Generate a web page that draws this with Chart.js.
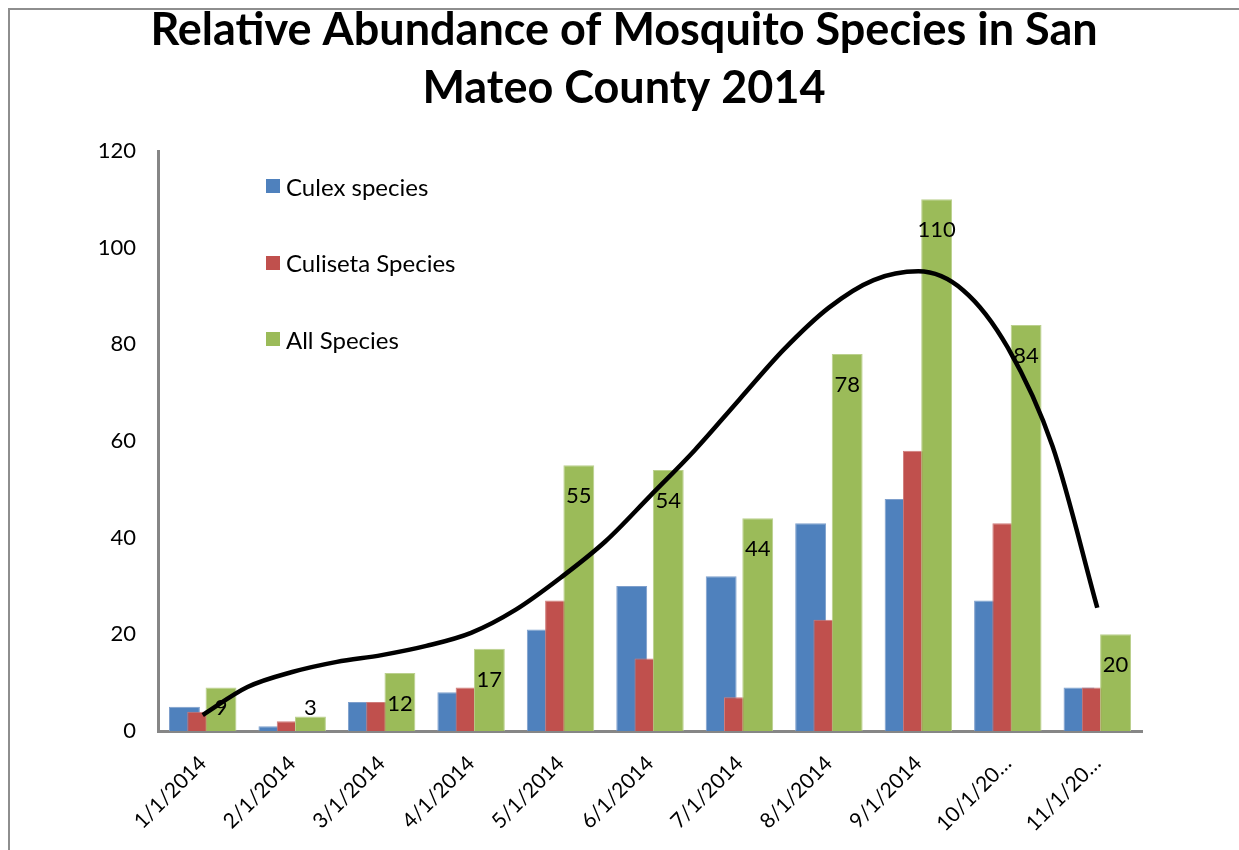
<!DOCTYPE html>
<html>
<head>
<meta charset="utf-8">
<script src="https://cdn.jsdelivr.net/npm/chart.js@4.4.1/dist/chart.umd.min.js"></script>
<style>
  html, body { margin: 0; padding: 0; background: #fff; overflow: hidden; }
  #frame {
    position: absolute; left: 8px; top: 8px; width: 1300px; height: 900px;
    border-top: 2px solid #8e8e8e; border-left: 2px solid #8e8e8e;
  }
  #wrap { position: absolute; left: 0; top: 0; width: 1239px; height: 850px; }
  #legend {
    position: absolute; list-style: none; margin: 0; padding: 0;
    font-family: Lato, sans-serif; font-size: 24px; color: #000;
  }
  #legend li { display: flex; align-items: center; height: 24px; margin-bottom: 52.5px; white-space: nowrap; }
  #legend .swatch { width: 14px; height: 14px; margin-right: 6px; flex: none; }
</style>
</head>
<body>
<div id="frame"></div>
<div id="wrap">
  <canvas id="chart" width="1239" height="850"></canvas>
  <ul id="legend"></ul>
</div>
<script>
// Monthly trap counts, San Mateo County 2014
const months = ['1/1/2014', '2/1/2014', '3/1/2014', '4/1/2014', '5/1/2014', '6/1/2014',
                '7/1/2014', '8/1/2014', '9/1/2014', '10/1/2014', '11/1/2014'];
const monthTickLabels = ['1/1/2014', '2/1/2014', '3/1/2014', '4/1/2014', '5/1/2014', '6/1/2014',
                         '7/1/2014', '8/1/2014', '9/1/2014', '10/1/20\u2026', '11/1/20\u2026'];
const culex = [5, 1, 6, 8, 21, 30, 32, 43, 48, 27, 9];
const culiseta = [4, 2, 6, 9, 27, 15, 7, 23, 58, 43, 9];
const allSpecies = [9, 3, 12, 17, 55, 54, 44, 78, 110, 84, 20];

// Smoothed seasonal trend, one value every half month from 1/1 to 11/1
const trendHalfMonthly = [3.3, 9.1, 12.2, 14.3, 15.7, 17.6, 20.3, 25.1, 31.7, 39.2, 48.6,
                          58.1, 68.6, 79.0, 87.6, 93.3, 95.1, 91.2, 79.3, 58.9, 25.5];

const yTicks = [0, 20, 40, 60, 80, 100, 120];

const FONT = 'Lato, sans-serif';
const AXIS_GREY = '#868686';

const monthPoints = values => values.map((v, i) => ({ x: i, y: v }));

// Columns overlap like Excel's clustered columns: later series sit on top of earlier ones,
// value labels follow the green columns, and the trend line is drawn last.
const layerOrder = {
  id: 'layerOrder',
  beforeDatasetsDraw(chart) {
    const ctx = chart.ctx;
    [0, 1, 2].forEach(i => chart.getDatasetMeta(i).controller.draw());

    const meta = chart.getDatasetMeta(2);
    ctx.save();
    ctx.font = '22px ' + FONT;
    ctx.fillStyle = '#000';
    ctx.textAlign = 'center';
    ctx.textBaseline = 'middle';
    meta.data.forEach((bar, i) => {
      const y = Math.min(bar.y + 31, bar.base - 23);
      ctx.fillText(String(allSpecies[i]), bar.x, y);
    });
    ctx.restore();

    ctx.save();
    ctx.lineJoin = 'round';
    ctx.lineCap = 'round';
    chart.getDatasetMeta(3).controller.draw();
    ctx.restore();
    return false;
  }
};

// Legend list placed inside the plot area, built from the column datasets
const htmlLegend = {
  id: 'htmlLegend',
  afterUpdate(chart) {
    const ul = document.getElementById('legend');
    ul.innerHTML = '';
    chart.data.datasets.filter(ds => ds.type !== 'line').forEach(ds => {
      const li = document.createElement('li');
      const sw = document.createElement('span');
      sw.className = 'swatch';
      sw.style.background = ds.backgroundColor;
      const tx = document.createElement('span');
      tx.textContent = ds.label;
      li.appendChild(sw);
      li.appendChild(tx);
      ul.appendChild(li);
    });
    const area = chart.chartArea;
    ul.style.left = (area.left + 108) + 'px';
    ul.style.top = (area.top + 23) + 'px';
  }
};

new Chart(document.getElementById('chart'), {
  type: 'bar',
  data: {
    datasets: [
      { label: 'Culex species', data: monthPoints(culex), backgroundColor: '#4F81BD',
        borderColor: '#7E9FCC', borderWidth: 1 },
      { label: 'Culiseta Species', data: monthPoints(culiseta), backgroundColor: '#C0504D',
        borderColor: '#CF7C7A', borderWidth: 1 },
      { label: 'All Species', data: monthPoints(allSpecies), backgroundColor: '#9BBB59',
        borderColor: '#BBD08E', borderWidth: 1 },
      { type: 'line', label: 'Trend',
        data: trendHalfMonthly.map((v, i) => ({ x: i / 2, y: v })),
        borderColor: '#000', borderWidth: 4.5, pointRadius: 0, fill: false,
        cubicInterpolationMode: 'monotone' }
    ]
  },
  options: {
    responsive: false,
    animation: false,
    devicePixelRatio: 1,
    categoryPercentage: 0.613,
    barPercentage: 1.69,
    layout: { padding: { left: 9, right: 0, top: 0, bottom: 0 } },
    plugins: {
      legend: { display: false },
      tooltip: { enabled: false },
      title: {
        display: true,
        text: ['Relative Abundance of Mosquito Species in San', 'Mateo County 2014'],
        color: '#000',
        font: { family: FONT, size: 45, weight: 'bold', lineHeight: 58 / 45 },
        padding: { top: 1, bottom: 34 }
      }
    },
    scales: {
      x: {
        type: 'linear',
        min: -0.5, max: 10.5,
        offset: false,
        grid: { display: false, drawTicks: false },
        border: { display: true, color: AXIS_GREY, width: 3 },
        afterBuildTicks: s => { s.ticks = months.map((m, i) => ({ value: i })); },
        ticks: {
          autoSkip: false, maxRotation: 45, minRotation: 45, padding: 20,
          color: '#000', font: { family: FONT, size: 21 },
          callback: v => monthTickLabels[v]
        },
        afterFit: s => { s.height = 119; }
      },
      y: {
        min: 0, max: 120,
        grid: { display: false, drawTicks: false },
        border: { display: true, color: AXIS_GREY, width: 3 },
        ticks: {
          stepSize: 20, padding: 22, color: '#000', font: { family: FONT, size: 22 },
          callback: v => (yTicks.includes(v) ? String(v) : '')
        },
        afterFit: s => { s.width = 149; }
      },
      // empty right-hand margin of the plot
      yRight: {
        position: 'right',
        grid: { display: false, drawTicks: false },
        border: { display: false },
        ticks: { display: false },
        afterFit: s => { s.width = 97; }
      }
    }
  },
  plugins: [layerOrder, htmlLegend]
});
</script>
</body>
</html>
